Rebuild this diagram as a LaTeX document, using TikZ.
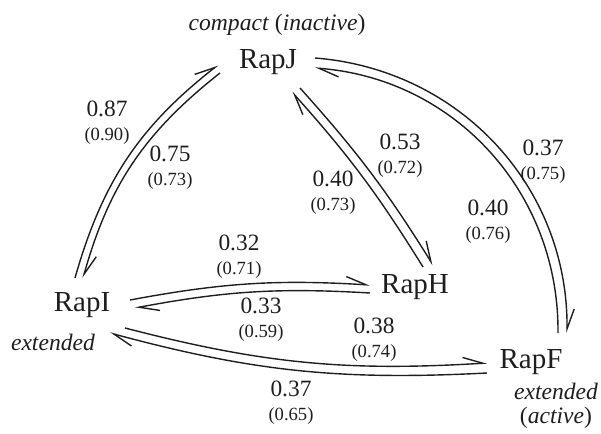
\documentclass[tikz,border=0pt]{standalone}
\usepackage{fontspec}
\setmainfont{Liberation Serif}
\usetikzlibrary{arrows.meta}
\definecolor{cink}{HTML}{1E1E1E}
\newcommand{\ratelbl}[2]{#1\\{\fontsize{9.3}{12}\selectfont(#2)}}

\begin{document}
\begin{tikzpicture}[
    x=0.5pt, y=-0.5pt,
    >={Straight Barb[left, length=10pt, width=7pt]},
    rap/.style={font=\fontsize{14.5}{17}\selectfont, text=cink, inner sep=0pt},
    state/.style={font=\fontsize{11.8}{12}\selectfont, text=cink, align=center, inner sep=0pt},
    rate/.style={font=\fontsize{11.7}{12}\selectfont, text=cink, align=center, inner sep=0pt},
    link/.style={->, draw=cink, line width=0.7pt},
  ]
  \useasboundingbox (0,0) rectangle (601,434);
  % the four states
  \node[rap] (RapJ) at (268,62) {RapJ};
  \node[rap] (RapI) at (82,305) {RapI};
  \node[rap] (RapH) at (415,287) {RapH};
  \node[rap] (RapF) at (531,362) {RapF};
  \node[state] (confJ) at (277,25) {\textit{compact} (\textit{inactive})};
  \node[state] (confI) at (53,342) {\textit{extended}};
  \node[state] (confF) at (556,406) {\textit{extended}\\(\textit{active})};

  % RapI -- RapJ
  \draw[link] ([shift={(-7,-27)}]RapI.center) to[bend left=18] ([shift={(-50,3)}]RapJ.center);
  \draw[link] ([shift={(-48,11)}]RapJ.center) to[bend right=18] ([shift={(1,-27)}]RapI.center);
  % RapJ -- RapH
  \draw[link] ([shift={(32,26)}]RapJ.center) to[bend left=5] ([shift={(18,-22)}]RapH.center);
  \draw[link] ([shift={(8,-20)}]RapH.center) to[bend right=5] ([shift={(24,30)}]RapJ.center);
  % RapJ -- RapF
  \draw[link] ([shift={(47,-4)}]RapJ.center) to[bend left=43] ([shift={(36,-29)}]RapF.center);
  \draw[link] ([shift={(27,-29)}]RapF.center) to[bend right=43] ([shift={(47,6)}]RapJ.center);
  % RapI -- RapH
  \draw[link] ([shift={(48,-5)}]RapI.center) to[bend left=7] ([shift={(-45,-2)}]RapH.center);
  \draw[link] ([shift={(-45,6)}]RapH.center) to[bend right=7] ([shift={(53,3)}]RapI.center);
  % RapI -- RapF
  \draw[link] ([shift={(43,23)}]RapI.center) to[bend right=9] ([shift={(-44,1)}]RapF.center);
  \draw[link] ([shift={(-44,11)}]RapF.center) to[bend left=9] ([shift={(28,28)}]RapI.center);

  % rates
  \node[rate] (ij) at (107,123) {\ratelbl{0.87}{0.90}};
  \node[rate] (ji) at (170,168) {\ratelbl{0.75}{0.73}};
  \node[rate] (jh) at (400,156) {\ratelbl{0.53}{0.72}};
  \node[rate] (hj) at (333,193) {\ratelbl{0.40}{0.73}};
  \node[rate] (jf) at (543,162) {\ratelbl{0.37}{0.75}};
  \node[rate] (fj) at (488,222) {\ratelbl{0.40}{0.76}};
  \node[rate] (ih) at (239,257) {\ratelbl{0.32}{0.71}};
  \node[rate] (hi) at (261,320) {\ratelbl{0.33}{0.59}};
  \node[rate] (if) at (374,340) {\ratelbl{0.38}{0.74}};
  \node[rate] (fi) at (291,403) {\ratelbl{0.37}{0.65}};
\end{tikzpicture}
\end{document}
